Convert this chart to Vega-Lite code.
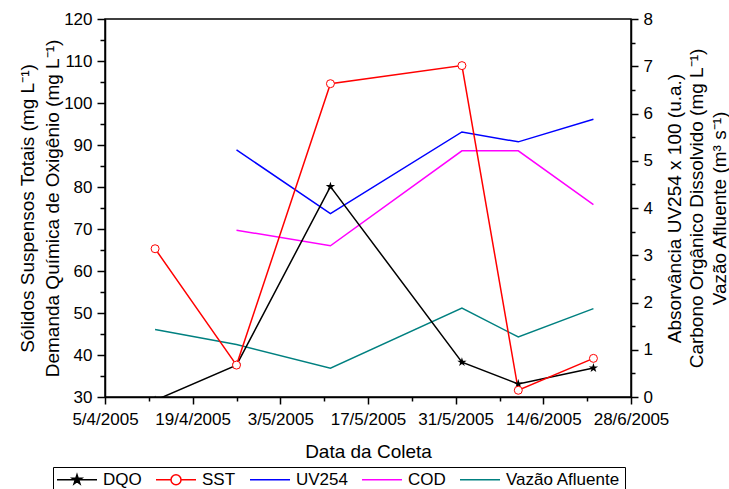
{
  "$schema": "https://vega.github.io/schema/vega-lite/v6.json",
  "width": 526,
  "height": 378,
  "autosize": {"type": "none"},
  "padding": {"left": 105, "top": 19, "right": 98, "bottom": 92},
  "config": {
    "font": "Liberation Sans",
    "view": {"stroke": "black", "strokeWidth": 1.5},
    "axis": {
      "domainColor": "black", "domainWidth": 1.5,
      "tickColor": "black", "tickWidth": 1.5,
      "labelColor": "black", "labelFont": "Liberation Sans", "labelFontSize": 17,
      "titleColor": "black", "titleFont": "Liberation Sans", "titleFontSize": 19, "titleFontWeight": "normal",
      "grid": false, "labelFlush": false, "labelOverlap": false
    },
    "legend": {
      "labelFont": "Liberation Sans", "labelFontSize": 17, "labelColor": "black"
    }
  },
  "data": {"values": [
    {"date": "2005-04-13", "serie": "DQO", "value": 29.2},
    {"date": "2005-04-26", "serie": "DQO", "value": 37.6},
    {"date": "2005-05-11", "serie": "DQO", "value": 80.1},
    {"date": "2005-06-01", "serie": "DQO", "value": 38.3},
    {"date": "2005-06-10", "serie": "DQO", "value": 33.1},
    {"date": "2005-06-22", "serie": "DQO", "value": 36.9},
    {"date": "2005-04-13", "serie": "SST", "value": 65.3},
    {"date": "2005-04-26", "serie": "SST", "value": 37.6},
    {"date": "2005-05-11", "serie": "SST", "value": 104.6},
    {"date": "2005-06-01", "serie": "SST", "value": 108.9},
    {"date": "2005-06-10", "serie": "SST", "value": 31.6},
    {"date": "2005-06-22", "serie": "SST", "value": 39.2},
    {"date": "2005-04-26", "serie": "UV254", "value": 5.23},
    {"date": "2005-05-11", "serie": "UV254", "value": 3.88},
    {"date": "2005-06-01", "serie": "UV254", "value": 5.61},
    {"date": "2005-06-10", "serie": "UV254", "value": 5.40},
    {"date": "2005-06-22", "serie": "UV254", "value": 5.88},
    {"date": "2005-04-26", "serie": "COD", "value": 3.53},
    {"date": "2005-05-11", "serie": "COD", "value": 3.20},
    {"date": "2005-06-01", "serie": "COD", "value": 5.21},
    {"date": "2005-06-10", "serie": "COD", "value": 5.21},
    {"date": "2005-06-22", "serie": "COD", "value": 4.07},
    {"date": "2005-04-13", "serie": "Vazão Afluente", "value": 1.43},
    {"date": "2005-04-26", "serie": "Vazão Afluente", "value": 1.11},
    {"date": "2005-05-11", "serie": "Vazão Afluente", "value": 0.61},
    {"date": "2005-06-01", "serie": "Vazão Afluente", "value": 1.88},
    {"date": "2005-06-10", "serie": "Vazão Afluente", "value": 1.27},
    {"date": "2005-06-22", "serie": "Vazão Afluente", "value": 1.87}
  ]},
  "encoding": {
    "x": {
      "field": "date", "type": "temporal", "title": "Data da Coleta",
      "scale": {"type": "utc", "domain": [{"year": 2005, "month": 4, "date": 5, "utc": true}, {"year": 2005, "month": 6, "date": 28, "utc": true}]},
      "axis": {
        "values": [
          {"year": 2005, "month": 4, "date": 5, "utc": true},
          {"year": 2005, "month": 4, "date": 12, "utc": true},
          {"year": 2005, "month": 4, "date": 19, "utc": true},
          {"year": 2005, "month": 4, "date": 26, "utc": true},
          {"year": 2005, "month": 5, "date": 3, "utc": true},
          {"year": 2005, "month": 5, "date": 10, "utc": true},
          {"year": 2005, "month": 5, "date": 17, "utc": true},
          {"year": 2005, "month": 5, "date": 24, "utc": true},
          {"year": 2005, "month": 5, "date": 31, "utc": true},
          {"year": 2005, "month": 6, "date": 7, "utc": true},
          {"year": 2005, "month": 6, "date": 14, "utc": true},
          {"year": 2005, "month": 6, "date": 21, "utc": true},
          {"year": 2005, "month": 6, "date": 28, "utc": true}
        ],
        "labelExpr": "((datum.value - 1112659200000) / 86400000) % 14 === 0 ? utcFormat(datum.value, '%-d/%-m/%Y') : ''",
        "tickSize": {"condition": {"test": "((datum.value - 1112659200000) / 86400000) % 14 === 0", "value": 7}, "value": 4},
        "labelPadding": 7,
        "titleBaseline": "top", "titleY": 45
      }
    }
  },
  "resolve": {"scale": {"y": "independent"}},
  "layer": [
    {
      "transform": [{"filter": "indexof(['UV254','COD','Vazão Afluente'], datum.serie) >= 0"}],
      "mark": {"type": "line", "strokeWidth": 1.5},
      "encoding": {
        "y": {
          "field": "value", "type": "quantitative",
          "scale": {"domain": [0, 8], "nice": false, "zero": false},
          "axis": {
            "orient": "right",
            "values": [0, 0.5, 1, 1.5, 2, 2.5, 3, 3.5, 4, 4.5, 5, 5.5, 6, 6.5, 7, 7.5, 8],
            "format": ".0f",
            "labelExpr": "datum.value % 1 === 0 ? datum.label : ''",
            "tickSize": {"condition": {"test": "datum.value % 1 === 0", "value": 7}, "value": 4},
            "labelPadding": 5,
            "title": ["Absorvância UV254 x 100 (u.a.)", "Carbono Orgânico Dissolvido (mg L⁻¹)", "Vazão Afluente (m³ s⁻¹)"],
            "titleAngle": -90, "titleAlign": "center", "titleBaseline": "alphabetic",
            "titleX": 49, "titleY": 189, "titleLineHeight": 22.5
          }
        },
        "color": {
          "field": "serie", "type": "nominal",
          "scale": {"domain": ["DQO", "SST", "UV254", "COD", "Vazão Afluente"], "range": ["black", "red", "blue", "#ff00ff", "#008080"]},
          "legend": {
            "orient": "none", "legendX": -52, "legendY": 448, "direction": "horizontal", "columns": 5, "gridAlign": "each",
            "title": null, "padding": 4, "columnPadding": 11, "labelOffset": 29, "symbolSize": 4,
            "strokeColor": "black", "symbolStrokeWidth": 1.5,
            "encode": {"symbols": {"update": {
              "shape": {"signal": "datum.value === 'DQO' ? 'M-8.5,0L31.5,0M11.5,-5L12.62,-1.55L16.26,-1.55L13.32,0.59L14.44,4.05L11.5,1.91L8.56,4.05L9.68,0.59L6.74,-1.55L10.38,-1.55Z' : datum.value === 'SST' ? 'M-8.5,0L6.5,0M16.5,0L31.5,0M6.5,0A5,5 0 1,1 16.5,0A5,5 0 1,1 6.5,0Z' : 'M-8.5,0L31.5,0'"},
              "fill": {"signal": "datum.value === 'DQO' ? 'black' : datum.value === 'SST' ? 'white' : 'transparent'"},
              "size": {"value": 4},
              "strokeWidth": {"value": 1.5}
            }}}
          }
        }
      }
    },
    {
      "encoding": {
        "y": {
          "field": "value", "type": "quantitative",
          "scale": {"domain": [30, 120], "nice": false, "zero": false},
          "axis": {
            "orient": "left",
            "values": [30, 35, 40, 45, 50, 55, 60, 65, 70, 75, 80, 85, 90, 95, 100, 105, 110, 115, 120],
            "labelExpr": "datum.value % 10 === 0 ? datum.label : ''",
            "tickSize": {"condition": {"test": "datum.value % 10 === 0", "value": 8}, "value": 5},
            "labelPadding": 5,
            "title": ["Sólidos Suspensos Totais (mg L⁻¹)", "Demanda Química de Oxigênio (mg L⁻¹)"],
            "titleAngle": -90, "titleAlign": "center", "titleBaseline": "alphabetic",
            "titleX": -72, "titleY": 189, "titleLineHeight": 25
          }
        }
      },
      "layer": [
        {
          "transform": [{"filter": "indexof(['DQO','SST'], datum.serie) >= 0"}],
          "mark": {"type": "line", "strokeWidth": 1.5, "clip": true},
          "encoding": {
            "color": {
              "field": "serie", "type": "nominal",
              "scale": {"domain": ["DQO", "SST", "UV254", "COD", "Vazão Afluente"], "range": ["black", "red", "blue", "#ff00ff", "#008080"]},
              "legend": {
                "orient": "none", "legendX": -52, "legendY": 448, "direction": "horizontal", "columns": 5, "gridAlign": "each",
                "title": null, "padding": 4, "columnPadding": 11, "labelOffset": 29, "symbolSize": 4,
                "strokeColor": "black", "symbolStrokeWidth": 1.5,
                "encode": {"symbols": {"update": {
                  "shape": {"signal": "datum.value === 'DQO' ? 'M-8.5,0L31.5,0M11.5,-5L12.62,-1.55L16.26,-1.55L13.32,0.59L14.44,4.05L11.5,1.91L8.56,4.05L9.68,0.59L6.74,-1.55L10.38,-1.55Z' : datum.value === 'SST' ? 'M-8.5,0L6.5,0M16.5,0L31.5,0M6.5,0A5,5 0 1,1 16.5,0A5,5 0 1,1 6.5,0Z' : 'M-8.5,0L31.5,0'"},
                  "fill": {"signal": "datum.value === 'DQO' ? 'black' : datum.value === 'SST' ? 'white' : 'transparent'"},
                  "size": {"value": 4},
                  "strokeWidth": {"value": 1.5}
                }}}
              }
            }
          }
        },
        {
          "transform": [{"filter": "datum.serie === 'DQO'"}],
          "mark": {"type": "point", "shape": "M0,-1L0.2245,-0.309L0.951,-0.309L0.363,0.118L0.588,0.809L0,0.382L-0.588,0.809L-0.363,0.118L-0.951,-0.309L-0.2245,-0.309Z", "filled": true, "color": "black", "opacity": 1, "size": 96, "clip": true}
        },
        {
          "transform": [{"filter": "datum.serie === 'SST'"}],
          "mark": {"type": "point", "shape": "circle", "fill": "white", "stroke": "red", "strokeWidth": 1, "opacity": 1, "fillOpacity": 1, "size": 64, "clip": true}
        }
      ]
    }
  ]
}
